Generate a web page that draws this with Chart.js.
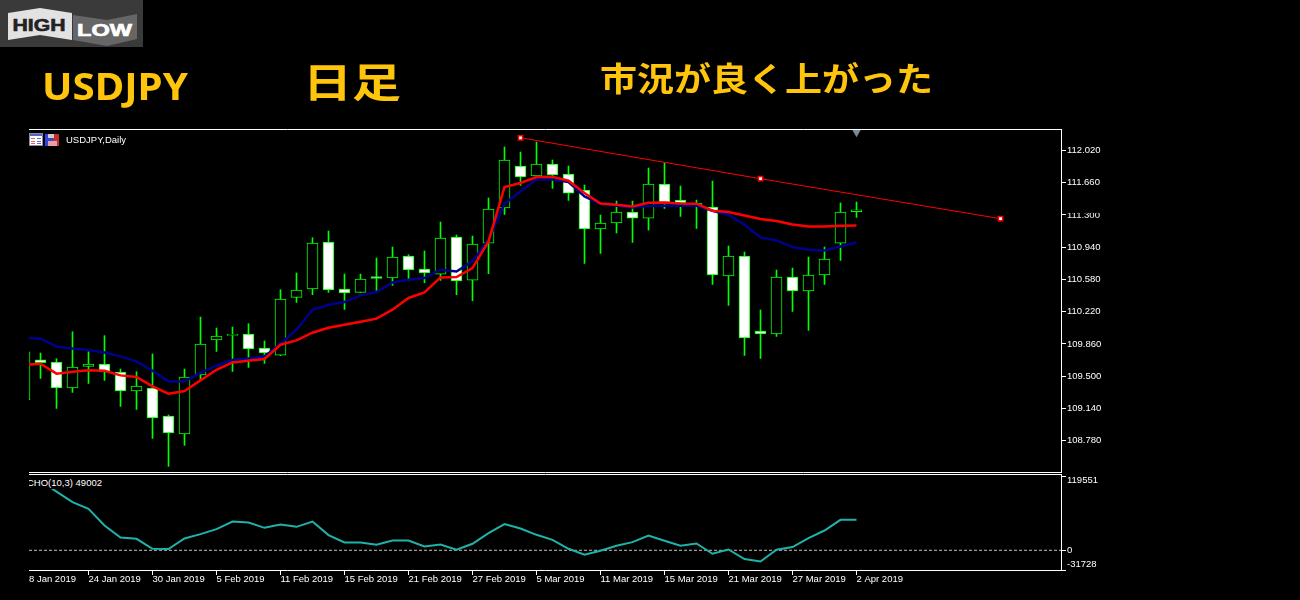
<!DOCTYPE html>
<html>
<head>
<meta charset="utf-8">
<title>USDJPY</title>
<script src="https://cdn.jsdelivr.net/npm/chart.js@4"></script>
<style>
html, body { margin: 0; background: #000; }
body { width: 1300px; height: 600px; overflow: hidden; position: relative; }
canvas { position: absolute; left: 0; top: 0; }
.head { position: absolute; color: #FFC40C; white-space: nowrap; line-height: 1; transform-origin: 0 0; }
.small { position: absolute; color: #fff; font: 9.5px "Liberation Sans", sans-serif; white-space: nowrap; }
svg { position: absolute; }
</style>
</head>
<body>
<canvas id="mainChart" width="1300" height="600"></canvas>
<canvas id="subChart" width="1300" height="600"></canvas>

<svg style="left:0;top:0" width="143" height="47">
  <rect width="143" height="47" fill="#3a3a3a"/>
  <polygon points="8,13 40,8 72,13 72,40 40,35 8,40" fill="#e2e2e2"/>
  <polygon points="73,15 107,20 137,14 137,39 107,46 73,40" fill="#666"/>
  <text x="12.5" y="31" font-family="Liberation Sans" font-weight="700" font-size="17" fill="#222" stroke="#222" stroke-width=".6" textLength="53" lengthAdjust="spacingAndGlyphs">HIGH</text>
  <text x="77" y="36" font-family="Liberation Sans" font-weight="700" font-size="16" fill="#fff" stroke="#fff" stroke-width=".6" textLength="55" lengthAdjust="spacingAndGlyphs">LOW</text>
</svg>

<div class="head" style="left:42px;top:60px;font:700 37px 'Noto Sans',sans-serif;transform:scaleX(1.09)">USDJPY</div>
<div class="head" style="left:303px;top:50px;font:700 49px 'Noto Sans CJK JP',sans-serif;transform:scaleY(.82)">日足</div>
<div class="head" style="left:600px;top:52px;font:700 37px 'Noto Sans CJK JP',sans-serif;transform:scaleY(.9)">市況が良く上がった</div>

<svg style="left:29px;top:133px" width="32" height="14">
  <rect x="0.5" y="0.5" width="13" height="12" fill="#fff" stroke="#889"/>
  <rect x="1" y="1" width="12" height="2" fill="#5566cc"/>
  <rect x="2" y="5" width="4" height="1" fill="#d66"/><rect x="8" y="5" width="4" height="1" fill="#66c"/>
  <rect x="2" y="8" width="4" height="1" fill="#d66"/><rect x="8" y="8" width="4" height="1" fill="#66c"/>
  <rect x="2" y="10" width="4" height="1" fill="#d66"/><rect x="8" y="10" width="4" height="1" fill="#66c"/>
  <rect x="16" y="1" width="8" height="12" fill="#3344dd"/>
  <rect x="24" y="1" width="6" height="12" fill="#c03030"/>
  <rect x="19" y="1" width="6" height="4" fill="#ccc"/>
  <rect x="19" y="8" width="9" height="5" fill="#e8a0a0"/>
</svg>
<div class="small" style="left:66px;top:134px">USDJPY,Daily</div>
<div class="small" style="left:29px;top:477px;width:73px;height:12px;background:#000;overflow:hidden;text-indent:-2px;line-height:12px">CHO(10,3) 49002</div>

<script>
const highs  = [109.773,109.759,109.695,109.996,109.773,109.952,109.580,109.550,109.748,109.067,109.580,110.160,110.038,110.049,110.086,109.893,110.465,110.652,111.045,111.120,110.640,110.640,110.819,110.942,110.856,110.897,111.221,111.076,111.064,111.489,112.058,112.002,112.113,111.913,111.846,111.634,111.299,111.455,111.455,111.823,111.879,111.622,111.466,111.678,110.953,110.886,110.239,110.685,110.707,110.830,110.942,111.433,111.444];
const lows   = [109.238,109.475,109.140,109.319,109.419,109.453,109.163,109.129,108.806,108.493,108.728,109.461,109.777,109.553,109.598,109.643,109.729,110.323,110.409,110.435,110.245,110.433,110.446,110.513,110.588,110.543,110.569,110.409,110.342,110.644,111.305,111.629,111.732,111.596,111.462,110.759,110.870,111.098,110.993,111.131,111.372,111.283,111.149,110.524,110.290,109.732,109.698,109.944,110.223,110.011,110.524,110.792,111.272];
const opens  = [109.238,109.684,109.658,109.368,109.609,109.636,109.547,109.335,109.368,109.056,108.855,109.513,109.904,109.955,109.971,109.815,109.736,110.379,110.473,110.997,110.473,110.435,110.612,110.596,110.841,110.696,110.640,111.053,110.573,110.986,111.377,111.846,111.734,111.868,111.756,111.578,111.143,111.210,111.332,111.265,111.645,111.466,111.388,111.388,110.618,110.841,110.004,109.971,110.607,110.451,110.629,110.986,111.336];
const closes = [109.773,109.650,109.368,109.602,109.636,109.547,109.335,109.390,109.033,108.866,109.491,109.859,109.948,109.966,109.803,109.759,110.361,110.462,110.986,110.462,110.428,110.585,110.590,110.830,110.685,110.652,111.042,110.562,110.975,111.366,111.913,111.723,111.868,111.745,111.544,111.143,111.210,111.332,111.265,111.645,111.439,111.433,111.433,110.629,110.841,109.926,109.971,110.607,110.451,110.629,110.808,111.332,111.358];
const maBlue = [109.929,109.918,109.832,109.810,109.792,109.765,109.721,109.665,109.561,109.442,109.442,109.536,109.617,109.681,109.698,109.721,109.863,110.019,110.242,110.298,110.328,110.402,110.439,110.547,110.577,110.596,110.688,110.669,110.781,111.023,111.425,111.562,111.696,111.696,111.667,111.506,111.422,111.403,111.384,111.399,111.403,111.406,111.403,111.347,111.299,111.191,111.049,111.015,110.942,110.912,110.904,110.948,110.993];
const maRed  = [109.628,109.639,109.528,109.550,109.565,109.561,109.509,109.491,109.386,109.305,109.335,109.453,109.572,109.654,109.673,109.692,109.851,109.899,109.985,110.041,110.075,110.108,110.142,110.242,110.373,110.435,110.602,110.607,110.707,111.004,111.611,111.656,111.723,111.726,111.682,111.544,111.428,111.414,111.395,111.436,111.439,111.428,111.425,111.347,111.332,111.294,111.254,111.232,111.194,111.172,111.172,111.179,111.183];
const trendIdx = [31, 46, 61];
const trendVal = [112.161, 111.704, 111.258];
const cho = [null,111617,94433,77409,66649,39829,20557,18469,2409,1927,18951,26017,34047,46253,44647,36135,41435,37741,46253,24411,12527,12527,8833,15739,15739,6103,9315,803,10439,27623,42077,35011,24893,16863,2409,-7227,-803,7227,13169,23769,15257,7227,10921,-5621,1285,-14133,-17987,803,5139,19593,31799,48983,49002];
const priceTicks = [112.02,111.66,111.3,110.94,110.58,110.22,109.86,109.5,109.14,108.78];
const choTicks = [119551,0,-31728];
const dateIdx = [0.28,4,8,12,16,20,24,28,32,36,40,44,48,52];
const dateLabels = ['8 Jan 2019','24 Jan 2019','30 Jan 2019','5 Feb 2019','11 Feb 2019','15 Feb 2019','21 Feb 2019','27 Feb 2019','5 Mar 2019','11 Mar 2019','15 Mar 2019','21 Mar 2019','27 Mar 2019','2 Apr 2019'];

const green = '#00FF00';
const axisFont = { family: '"Liberation Sans", sans-serif', size: 9.5 };
const xMin = 0.28125, xMax = 64.78125;

// white border lines round each window, the library only gives the right one
const frame = {
  id: 'frame',
  afterDatasetsDraw(chart, args, opts) {
    const c = chart.ctx, a = chart.chartArea;
    c.save();
    c.strokeStyle = '#fff';
    c.lineWidth = 1;
    c.beginPath();
    c.moveTo(a.left, opts.top); c.lineTo(a.right + 1, opts.top);
    c.moveTo(a.left, opts.bottom); c.lineTo(a.right + 1, opts.bottom);
    c.moveTo(a.right + 0.5, opts.top); c.lineTo(a.right + 0.5, opts.bottom);
    c.stroke();
    c.restore();
  }
};

// the 111.300 label is half hidden in the terminal
const hideLabel = {
  id: 'hideLabel',
  afterDraw(chart) {
    const c = chart.ctx, y = chart.scales.y.getPixelForValue(111.3);
    c.save();
    c.fillStyle = '#000';
    c.fillRect(1067, y - 9, 50, 7);
    c.fillRect(1067, y + 3, 50, 6);
    c.restore();
  }
};

// first and last CHO labels sit inside the axis range
const choLabels = {
  id: 'choLabels',
  afterDraw(chart) {
    const c = chart.ctx, s = chart.scales.y;
    const shift = [4, 0, -6];
    c.save();
    c.fillStyle = '#fff';
    c.font = '9.5px "Liberation Sans", sans-serif';
    c.textBaseline = 'middle';
    choTicks.forEach((v, i) => c.fillText(String(v), 1067, s.getPixelForValue(v) + shift[i]));
    c.restore();
  }
};

new Chart(document.getElementById('mainChart').getContext('2d'), {
  data: {
    datasets: [
      { type: 'bar', order: 5, grouped: false, barThickness: 1, backgroundColor: green, borderWidth: 0,
        data: highs.map((h, i) => ({ x: i, y: [lows[i], h] })) },
      { type: 'bar', order: 4, grouped: false, barThickness: 11, borderColor: green, borderWidth: 1, borderSkipped: false,
        backgroundColor: opens.map((o, i) => closes[i] < o ? '#fff' : '#000'),
        data: opens.map((o, i) => ({ x: i, y: [o, closes[i]] })) },
      { type: 'line', order: 3, borderColor: '#00008B', borderWidth: 2.5, pointRadius: 0, tension: 0,
        data: maBlue.map((v, i) => ({ x: i, y: v })) },
      { type: 'line', order: 2, borderColor: '#FF0000', borderWidth: 2.5, pointRadius: 0, tension: 0,
        data: maRed.map((v, i) => ({ x: i, y: v })) },
      { type: 'line', order: 1, borderColor: '#FF0000', borderWidth: 1, tension: 0,
        pointStyle: 'rect', pointRadius: 3, pointBackgroundColor: '#fff', pointBorderColor: '#FF0000', pointBorderWidth: 1.5,
        data: trendIdx.map((x, i) => ({ x: x, y: trendVal[i] })) },
      { type: 'line', order: 0, showLine: false, clip: false, pointStyle: 'triangle', pointRotation: 180, pointRadius: 5,
        pointBackgroundColor: '#778899', pointBorderWidth: 0,
        data: [{ x: 52, y: 112.222 }] }
    ]
  },
  options: {
    responsive: false,
    animation: false,
    events: [],
    layout: { padding: { left: 29, top: 130, right: 189, bottom: 128 } },
    plugins: { legend: { display: false }, tooltip: { enabled: false }, frame: { top: 129.5, bottom: 472.5 } },
    scales: {
      x: { type: 'linear', display: false, offset: false, min: xMin, max: xMax },
      y: {
        position: 'right', min: 108.4307, max: 112.2477,
        afterFit: s => { s.width = 50; },
        afterBuildTicks: s => { s.ticks = priceTicks.map(v => ({ value: v })); },
        border: { display: false },
        grid: { drawOnChartArea: false, color: '#fff', tickLength: 5 },
        ticks: { color: '#fff', font: axisFont, padding: 1, autoSkip: false, callback: v => v.toFixed(3) }
      }
    }
  },
  plugins: [frame, hideLabel]
});

new Chart(document.getElementById('subChart').getContext('2d'), {
  data: {
    datasets: [
      { type: 'line', order: 2, borderColor: '#c4c4c4', borderWidth: 1, borderDash: [3, 2], pointRadius: 0,
        data: [{ x: xMin, y: 0 }, { x: xMax, y: 0 }] },
      { type: 'line', order: 1, borderColor: '#20B2AA', borderWidth: 2, pointRadius: 0, tension: 0,
        data: cho.map((v, i) => ({ x: i, y: v })) }
    ]
  },
  options: {
    responsive: false,
    animation: false,
    events: [],
    layout: { padding: { left: 29, top: 476, right: 189, bottom: 0 } },
    plugins: { legend: { display: false }, tooltip: { enabled: false }, frame: { top: 474.5, bottom: 570.5 } },
    scales: {
      x: {
        type: 'linear', min: xMin, max: xMax,
        afterFit: s => { s.height = 30; },
        afterBuildTicks: s => { s.ticks = dateIdx.map(v => ({ value: v })); },
        border: { display: false },
        grid: { drawOnChartArea: false, color: c => c.index === 0 ? '#000' : '#fff', tickLength: 5 },
        ticks: { color: '#fff', font: axisFont, align: 'start', padding: -1, autoSkip: false, maxRotation: 0,
          callback: (v, i) => dateLabels[i] }
      },
      y: {
        position: 'right', min: -31728, max: 119551,
        afterFit: s => { s.width = 50; },
        afterBuildTicks: s => { s.ticks = choTicks.map(v => ({ value: v })); },
        border: { display: false },
        grid: { drawOnChartArea: false, color: '#fff', tickLength: 5 },
        ticks: { display: false }
      }
    }
  },
  plugins: [frame, choLabels]
});
</script>
</body>
</html>
